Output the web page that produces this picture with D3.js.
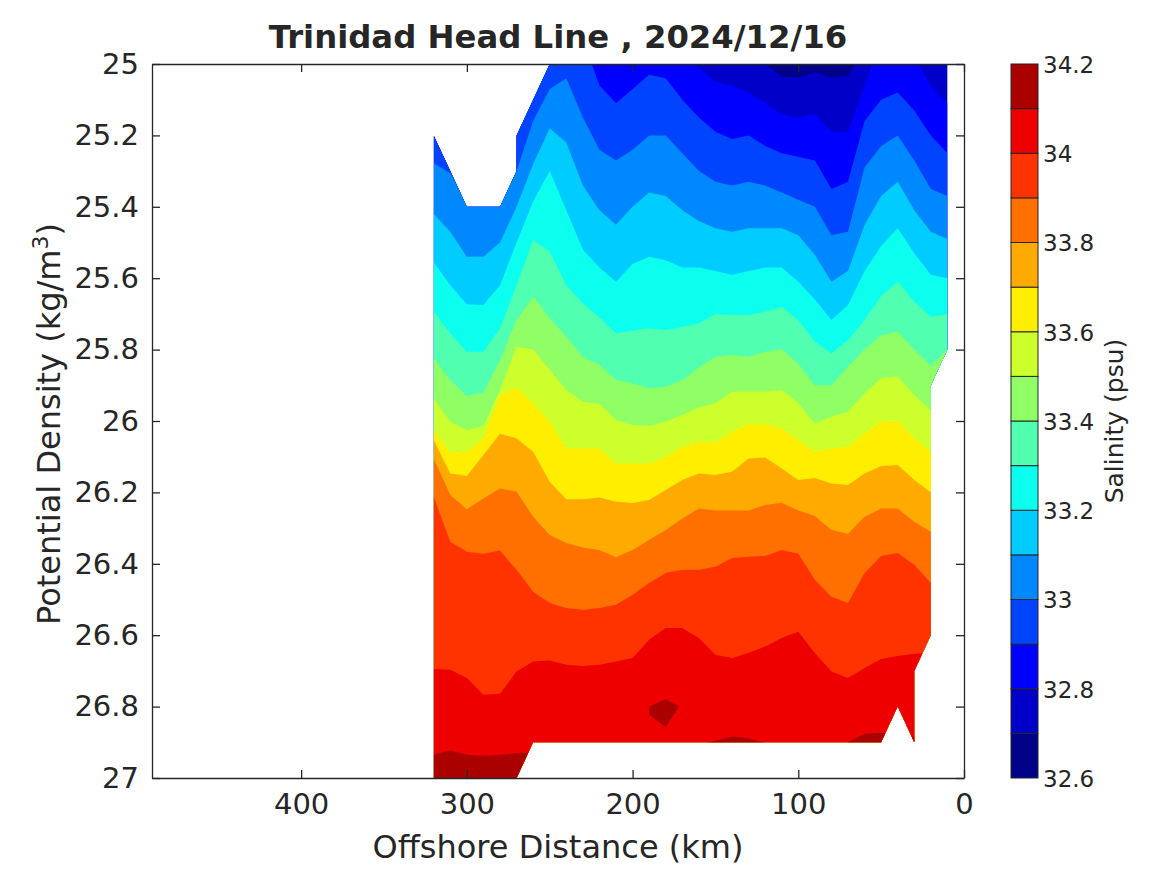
<!DOCTYPE html>
<html>
<head>
<meta charset="utf-8">
<script src="https://cdn.jsdelivr.net/npm/d3@7"></script>
<style>
    html, body { margin: 0; padding: 0; background: #fff; }
    text { font-family: "DejaVu Sans", sans-serif; fill: #262626; }
    .domain, .tick line { stroke: #262626; }
</style>
</head>
<body>
<svg id="chart" width="1167" height="875"></svg>
<script>
// Stations along the line, offshore km
const stations = [320, 310, 300, 290, 280, 270, 260, 250, 240, 230, 220, 210, 200, 190, 180, 170,
    160, 150, 140, 130, 120, 110, 100, 90, 80, 70, 60, 50, 40, 30, 20, 10];

// Density of each salinity contour at each station
const iso327 = [24.9, 24.9, 24.9, 24.9, 24.9, 24.9, 24.9, 24.9, 24.9, 24.9, 24.9, 24.9, 24.9, 24.9, 24.9, 24.9, 24.9, 24.9, 24.9, 24.95, 25.0, 25.035, 25.038, 25.023, 25.038, 25.033, 24.96, 24.9, 24.9, 24.9, 24.9, 24.9];
const iso328 = [24.9, 24.9, 24.9, 24.9, 24.9, 24.9, 24.9, 24.9, 24.9, 24.9, 24.9, 24.9, 24.9, 24.9, 24.9, 24.98, 25.01, 25.05, 25.06, 25.08, 25.11, 25.14, 25.15, 25.14, 25.19, 25.19, 25.06, 24.93, 24.91, 24.98, 25.06, 25.11];
const iso329 = [24.9, 24.9, 24.9, 24.9, 24.9, 24.9, 24.9, 24.9, 24.9, 24.93, 25.06, 25.11, 25.07, 25.03, 25.04, 25.10, 25.15, 25.19, 25.21, 25.20, 25.23, 25.25, 25.26, 25.27, 25.35, 25.33, 25.16, 25.10, 25.08, 25.13, 25.20, 25.25];
const iso330 = [25.278, 25.306, 25.38, 25.38, 25.38, 25.30, 25.16, 25.07, 25.04, 25.15, 25.24, 25.27, 25.24, 25.20, 25.20, 25.25, 25.30, 25.33, 25.34, 25.33, 25.34, 25.36, 25.38, 25.40, 25.48, 25.47, 25.29, 25.23, 25.20, 25.27, 25.35, 25.37];
const iso331 = [25.42, 25.47, 25.54, 25.54, 25.50, 25.40, 25.28, 25.18, 25.22, 25.34, 25.41, 25.45, 25.40, 25.36, 25.37, 25.41, 25.44, 25.46, 25.47, 25.46, 25.46, 25.46, 25.48, 25.535, 25.61, 25.58, 25.45, 25.37, 25.33, 25.41, 25.47, 25.49];
const iso332 = [25.555, 25.62, 25.673, 25.675, 25.62, 25.50, 25.385, 25.30, 25.41, 25.52, 25.57, 25.61, 25.56, 25.54, 25.55, 25.57, 25.57, 25.58, 25.59, 25.58, 25.57, 25.57, 25.61, 25.66, 25.717, 25.675, 25.58, 25.51, 25.46, 25.53, 25.59, 25.60];
const iso333 = [25.694, 25.754, 25.806, 25.806, 25.74, 25.62, 25.493, 25.525, 25.62, 25.67, 25.71, 25.754, 25.747, 25.74, 25.745, 25.736, 25.726, 25.70, 25.703, 25.703, 25.694, 25.68, 25.717, 25.778, 25.81, 25.773, 25.717, 25.65, 25.61, 25.665, 25.708, 25.70];
const iso334 = [25.824, 25.885, 25.93, 25.92, 25.83, 25.717, 25.652, 25.712, 25.764, 25.82, 25.843, 25.885, 25.894, 25.908, 25.904, 25.885, 25.85, 25.82, 25.815, 25.82, 25.806, 25.80, 25.84, 25.90, 25.90, 25.848, 25.80, 25.76, 25.75, 25.80, 25.845, 25.80];
const iso335 = [25.936, 26.002, 26.025, 26.014, 25.913, 25.792, 25.80, 25.857, 25.913, 25.946, 25.952, 25.997, 26.011, 26.014, 26.002, 25.983, 25.962, 25.95, 25.918, 25.918, 25.918, 25.913, 25.95, 26.007, 25.988, 25.974, 25.922, 25.88, 25.876, 25.927, 25.97, 25.97];
const iso336 = [26.025, 26.089, 26.086, 26.048, 25.927, 25.906, 25.95, 26.002, 26.077, 26.077, 26.077, 26.119, 26.119, 26.119, 26.10, 26.072, 26.058, 26.06, 26.03, 26.008, 26.01, 26.02, 26.053, 26.086, 26.077, 26.072, 26.034, 26.002, 26.0, 26.048, 26.086, 26.086];
const iso337 = [26.053, 26.147, 26.154, 26.095, 26.036, 26.048, 26.086, 26.17, 26.219, 26.219, 26.214, 26.226, 26.23, 26.221, 26.193, 26.165, 26.147, 26.151, 26.142, 26.105, 26.102, 26.133, 26.165, 26.16, 26.175, 26.179, 26.147, 26.126, 26.123, 26.165, 26.20, 26.20];
const iso338 = [26.105, 26.207, 26.247, 26.217, 26.189, 26.198, 26.268, 26.319, 26.342, 26.354, 26.361, 26.382, 26.361, 26.333, 26.305, 26.273, 26.245, 26.251, 26.251, 26.251, 26.235, 26.229, 26.251, 26.266, 26.305, 26.316, 26.268, 26.245, 26.245, 26.282, 26.31, 26.31];
const iso339 = [26.212, 26.338, 26.366, 26.372, 26.363, 26.417, 26.478, 26.51, 26.524, 26.529, 26.524, 26.515, 26.487, 26.454, 26.426, 26.417, 26.417, 26.408, 26.384, 26.38, 26.378, 26.361, 26.372, 26.445, 26.492, 26.51, 26.426, 26.378, 26.37, 26.403, 26.454, 26.454];
const iso340 = [26.695, 26.697, 26.72, 26.767, 26.764, 26.702, 26.674, 26.671, 26.683, 26.686, 26.683, 26.674, 26.664, 26.613, 26.58, 26.58, 26.608, 26.655, 26.664, 26.65, 26.632, 26.608, 26.59, 26.65, 26.702, 26.72, 26.692, 26.667, 26.658, 26.652, 26.65, 26.65];
const iso341 = [26.935, 26.923, 26.935, 26.938, 26.935, 26.931, 26.927, 26.95, 26.95, 26.95, 26.95, 26.95, 26.95, 26.95, 26.95, 26.95, 26.907, 26.896, 26.884, 26.889, 26.902, 26.95, 26.95, 26.95, 26.95, 26.90, 26.876, 26.873, 26.875, 26.885, 26.95, 26.95];
const isolines = [iso327, iso328, iso329, iso330, iso331, iso332, iso333, iso334, iso335, iso336, iso337, iso338, iso339, iso340, iso341];

// Small closed patch above 34.1 near 180 km
const patchKm = [190, 180, 172, 180, 190];
const patchDensity = [26.80, 26.779, 26.80, 26.858, 26.823];

// Outline of the sampled area (km, density)
const outlineKm = [320, 310, 300, 280, 270, 270, 260, 250, 10, 10, 20, 20, 30, 30, 40, 50, 260, 270, 320];
const outlineDensity = [25.2, 25.3, 25.4, 25.4, 25.3, 25.2, 25.1, 25.0, 25.0, 25.8, 25.9, 26.6, 26.7, 26.9, 26.8, 26.9, 26.9, 27.0, 27.0];

const salinityLevels = [32.6, 32.7, 32.8, 32.9, 33.0, 33.1, 33.2, 33.3, 33.4, 33.5, 33.6, 33.7, 33.8, 33.9, 34.0, 34.1, 34.2];
const bandColors = ["#000088", "#0000c8", "#0000ff", "#0044ff", "#0088ff", "#00ccff", "#0cffee", "#50ffaf",
    "#90ff66", "#ccff2c", "#ffee00", "#ffaa00", "#ff7000", "#ff3300", "#ee0000", "#aa0000"];

const xTicks = [400, 300, 200, 100, 0];
const yTicks = [25, 25.2, 25.4, 25.6, 25.8, 26, 26.2, 26.4, 26.6, 26.8, 27];
const barTicks = [32.6, 32.8, 33, 33.2, 33.4, 33.6, 33.8, 34, 34.2];

const svg = d3.select("#chart");
const x = d3.scaleLinear().domain([490, 0]).range([152, 964]);
const y = d3.scaleLinear().domain([25, 27]).range([64, 778]);
const yBar = d3.scaleLinear().domain([32.6, 34.2]).range([778, 64]);

// Clip every band to the sampled area
const outline = d3.line().x((d, i) => x(outlineKm[i])).y((d, i) => y(outlineDensity[i]));
svg.append("clipPath").attr("id", "sampled")
    .append("path").attr("d", outline(outlineKm) + "Z");

const plot = svg.append("g").attr("clip-path", "url(#sampled)");
plot.append("path").attr("d", outline(outlineKm) + "Z").attr("fill", bandColors[0]);

// Paint each band from its contour down to the bottom, lighter levels first
isolines.forEach((iso, k) => {
    const area = d3.area()
        .x((d, i) => x(stations[i]))
        .y0(y(27))
        .y1((d, i) => y(iso[i]));
    plot.append("path").attr("d", area(iso)).attr("fill", bandColors[k + 1]);
});

const patch = d3.line().x((d, i) => x(patchKm[i])).y((d, i) => y(patchDensity[i]));
plot.append("path").attr("d", patch(patchKm) + "Z").attr("fill", bandColors[15]);

// Axes, box all around with inward ticks
function axis(gen, tx, ty, labels) {
    const g = svg.append("g").attr("transform", `translate(${tx},${ty})`).call(gen);
    g.selectAll(".domain, .tick line").attr("stroke-width", 1.3);
    g.selectAll("text").style("font-size", labels || "0px");
    return g;
}
const fmt = d => String(d);
axis(d3.axisBottom(x).tickValues(xTicks).tickFormat(fmt).tickSizeInner(-8).tickSizeOuter(0).tickPadding(15), 0, 778, "29px");
axis(d3.axisTop(x).tickValues(xTicks).tickFormat("").tickSizeInner(-8).tickSizeOuter(0), 0, 64);
axis(d3.axisLeft(y).tickValues(yTicks).tickFormat(fmt).tickSizeInner(-8).tickSizeOuter(0).tickPadding(13), 152, 0, "29px");
axis(d3.axisRight(y).tickValues(yTicks).tickFormat("").tickSizeInner(-8).tickSizeOuter(0), 964, 0);

svg.append("text").attr("x", 558).attr("y", 48).attr("text-anchor", "middle")
    .style("font-size", "32.3px").style("font-weight", "bold")
    .text("Trinidad Head Line , 2024/12/16");
svg.append("text").attr("x", 558).attr("y", 858).attr("text-anchor", "middle")
    .style("font-size", "32px").text("Offshore Distance (km)");

const yLabel = svg.append("text").attr("transform", "translate(60,424) rotate(-90)")
    .attr("text-anchor", "middle").style("font-size", "32px");
yLabel.append("tspan").text("Potential Density (kg/m");
yLabel.append("tspan").attr("dy", -12).style("font-size", "22px").text("3");
yLabel.append("tspan").attr("dy", 12).text(")");

// Colorbar
const bar = svg.append("g");
bar.selectAll("rect").data(bandColors).enter().append("rect")
    .attr("x", 1011).attr("width", 27)
    .attr("y", (d, i) => yBar(salinityLevels[i + 1]))
    .attr("height", (d, i) => yBar(salinityLevels[i]) - yBar(salinityLevels[i + 1]))
    .attr("fill", d => d)
    .attr("stroke", "#262626").attr("stroke-width", 1);
const barAxis = svg.append("g").attr("transform", "translate(1038,1)")
    .call(d3.axisRight(yBar).tickValues(barTicks).tickFormat(fmt).tickSize(0).tickPadding(5));
barAxis.select(".domain").remove();
barAxis.selectAll("text").style("font-size", "23px");

svg.append("text").attr("transform", "translate(1123,421) rotate(-90)")
    .attr("text-anchor", "middle").style("font-size", "25px").text("Salinity (psu)");
</script>
</body>
</html>
